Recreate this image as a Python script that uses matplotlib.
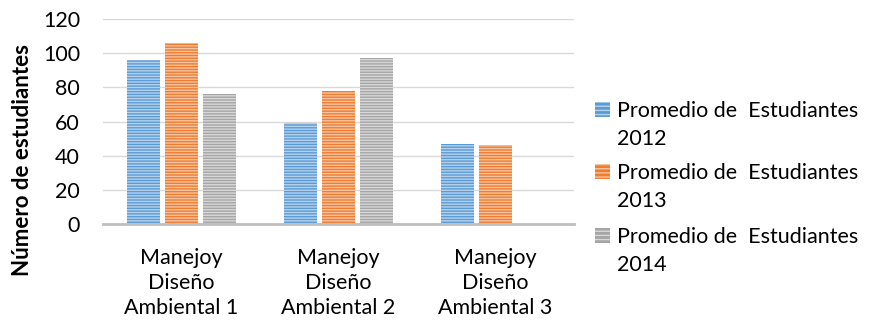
import matplotlib
matplotlib.use("Agg")
import matplotlib.pyplot as plt
from matplotlib.patches import Rectangle
import numpy as np

categories = ["Manejoy\nDiseño\nAmbiental 1", "Manejoy\nDiseño\nAmbiental 2", "Manejoy\nDiseño\nAmbiental 3"]
series_names = ["Promedio de  Estudiantes\n2012", "Promedio de  Estudiantes\n2013", "Promedio de  Estudiantes\n2014"]
values_2012 = [96, 59, 47]
values_2013 = [106, 78, 46]
values_2014 = [76, 97, 0]
yticks = [0, 20, 40, 60, 80, 100, 120]

face_colors = ["#5B9BD5", "#ED7D31", "#A5A5A5"]
stripe_colors = ["#B4D2EE", "#F8C3A0", "#D8D8D8"]
HATCH = "------"
FS = 15.5

plt.rcParams["font.family"] = ["Lato", "DejaVu Sans"]
plt.rcParams["hatch.linewidth"] = 1.0

W, H = 869, 324
fig = plt.figure(figsize=(W / 100, H / 100), dpi=100)
# plot area in pixels: left 103, right 574, baseline 224, top 19
ax = fig.add_axes([103 / W, 1 - 224 / H, (574 - 103) / W, (224 - 19) / H])

x = np.arange(len(categories))
width = 0.204
step = 0.242
all_series = [values_2012, values_2013, values_2014]
for i, vals in enumerate(all_series):
    ax.bar(x + (i - 1) * step, vals, width=width, color=face_colors[i],
           edgecolor=stripe_colors[i], linewidth=0, hatch=HATCH, zorder=3)

ax.set_xlim(-0.5, 2.5)
ax.set_ylim(0, 120)
ax.set_yticks(yticks)
ax.set_yticklabels([str(v) for v in yticks], fontsize=FS)
ax.set_xticks(x)
ax.set_xticklabels(categories, fontsize=FS, linespacing=1.32)
ax.tick_params(axis="x", length=0, pad=17)
ax.tick_params(axis="y", length=0, pad=16.5)
ax.grid(axis="y", color="#D9D9D9", linewidth=1, zorder=0)
for side in ["top", "right", "left"]:
    ax.spines[side].set_visible(False)
ax.spines["bottom"].set_color("#BFBFBF")
ax.spines["bottom"].set_linewidth(2)
ax.spines["bottom"].set_zorder(4)

fig.text(23 / W, 1 - 160 / H, "Número de estudiantes", rotation=90,
         ha="center", va="center", fontsize=16, fontweight="bold")

# legend: striped swatch beside a two-line label
first_baselines = [117, 179, 243]
for i, name in enumerate(series_names):
    yb = first_baselines[i]
    fig.patches.append(Rectangle((595 / W, 1 - (yb) / H), 15 / W, 15 / H,
                                 transform=fig.transFigure, facecolor=face_colors[i],
                                 edgecolor=stripe_colors[i], linewidth=0, hatch="----"))
    for j, line in enumerate(name.split("\n")):
        fig.text(617 / W, 1 - (yb + 28 * j) / H, line, fontsize=FS,
                 ha="left", va="baseline")

fig.savefig("out.png", dpi=100)
